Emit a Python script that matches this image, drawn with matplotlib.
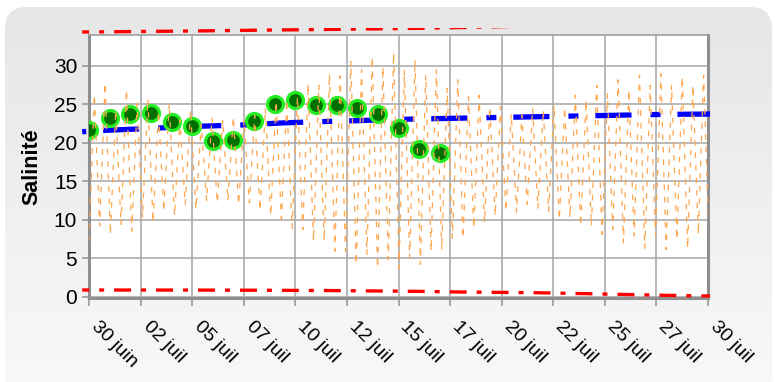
import numpy as np
import pandas as pd
import matplotlib
matplotlib.use('Agg')
import matplotlib.pyplot as plt
import matplotlib.dates as mdates
from matplotlib.colors import LinearSegmentedColormap
from matplotlib.patches import FancyBboxPatch
from matplotlib.transforms import Bbox, TransformedBbox, ScaledTranslation

plt.rcParams['font.family'] = ['Liberation Sans', 'DejaVu Sans']
plt.rcParams['lines.scale_dashes'] = False

t0 = pd.Timestamp('2008-06-30')

# salinité modélisée : creux et pics de marée alternés (~6h13 entre extrêmes)
sal_lows = [7.2, 9.2, 8.1, 9.4, 8.5, 10.3, 9.6, 11.1, 10.5, 12.0,
            11.4, 12.5, 12.2, 12.5, 12.0, 12.2, 11.2, 10.5, 10.1, 8.9,
            8.7, 7.2, 7.2, 5.9, 5.9, 4.2, 5.5, 3.7, 4.8, 3.7,
            5.0, 4.2, 5.9, 6.1, 7.6, 7.6, 8.9, 9.6, 10.5, 11.1,
            11.0, 12.0, 11.5, 11.1, 10.0, 10.3, 9.2, 9.2, 8.1, 8.7,
            7.0, 7.9, 6.3, 7.9, 6.1, 7.4, 6.3, 8.1, 7.4]
sal_highs = [26.3, 27.8, 24.3, 26.9, 25.1, 25.7, 24.1, 25.2, 23.0, 24.3,
             22.4, 23.2, 23.0, 23.4, 23.0, 23.6, 24.5, 25.4, 25.6, 26.0,
             27.7, 27.5, 29.0, 28.7, 30.6, 29.5, 31.2, 29.9, 31.7, 29.5,
             30.8, 28.8, 29.5, 27.1, 28.2, 26.0, 26.2, 24.7, 24.7, 23.8,
             23.6, 24.5, 24.3, 24.9, 24.6, 26.2, 25.6, 27.5, 26.4, 28.2,
             26.9, 28.8, 27.5, 29.0, 27.5, 28.6, 27.5, 28.8]

# mesures journalières
mes_vals = [21.7, 23.2, 23.7, 23.9, 22.7, 22.2, 20.2, 20.4, 22.8, 25.0,
            25.6, 24.9, 24.9, 24.6, 23.7, 22.0, 19.2, 18.7]

# salinité moyenne (jours depuis le 30 juin)
moy_days = [-0.33, 0.5, 2.3, 4.6, 7.6, 9.4, 11.0, 13.1, 15.7, 19.7, 23.7, 27.7, 30.1]
moy_vals = [21.45, 21.6, 21.8, 22.1, 22.35, 22.6, 22.75, 22.9, 23.1, 23.3, 23.5, 23.7, 23.75]

# limites (tiretés rouges)
lim_days = [-0.33, 5, 8, 11.5, 12, 15, 16, 17, 18, 19.4, 20, 21.6, 23.7, 24, 25, 26.5, 27.9, 29, 30.1]
lim_bas = [0.87, 0.86, 0.84, 0.8, 0.79, 0.72, 0.69, 0.65, 0.61, 0.57, 0.56, 0.52, 0.41, 0.40, 0.34, 0.26, 0.18, 0.13, 0.09]
lim_haut = [34.42, 34.55, 34.65, 34.75, 34.77, 34.86, 34.9, 34.95, 35.0, 35.08, 35.12, 35.22, 35.35, 35.37, 35.43, 35.52, 35.6, 35.66, 35.72]

tick_labels = ['30 juin', '02 juil', '05 juil', '07 juil', '10 juil', '12 juil', '15 juil',
               '17 juil', '20 juil', '22 juil', '25 juil', '27 juil', '30 juil']

sal = []
for i, lo in enumerate(sal_lows):
    sal.append(lo)
    if i < len(sal_highs):
        sal.append(sal_highs[i])
sal_times = pd.date_range(t0, periods=len(sal), freq='373min')
mes_times = pd.date_range(t0, periods=len(mes_vals), freq='D')
moy_times = t0 + pd.to_timedelta(moy_days, unit='D')
lim_times = t0 + pd.to_timedelta(lim_days, unit='D')
tick_times = pd.date_range(t0, periods=len(tick_labels), freq='60h')

fig = plt.figure(figsize=(7.75, 3.82), dpi=100, facecolor='white')

# fond gris arrondi en dégradé
bg = fig.add_axes([0, 0, 1, 1], zorder=-10)
bg.set_xlim(0, 775); bg.set_ylim(382, 0); bg.axis('off')
cmap = LinearSegmentedColormap.from_list('fond', ['#e6e6e6', '#f8f8f8'])
im = bg.imshow(np.linspace(0, 1, 200).reshape(-1, 1), extent=(0, 775, 382, 0),
               aspect='auto', cmap=cmap)
panel = FancyBboxPatch((5, 7), 767, 420, boxstyle='round,pad=0,rounding_size=22',
                       fc='none', ec='none')
bg.add_patch(panel)
im.set_clip_path(panel)

ax = fig.add_axes([89/775, 1-298/382, (708-89)/775, (298-35)/382])
ax.set_facecolor('white')

dashdot = (7.2, (12.2, 7.2, 3.6, 7.2))
l_moy, = ax.plot(moy_times, moy_vals, color='#0000ff', lw=3.8,
                 linestyle=(44, (26, 13.7, 7.2, 12.2)), zorder=3)
ax.plot(mes_times, mes_vals, 'o', ms=11.5, mfc='#006f00', mec='#22ee22', mew=2.3, zorder=4)
ax.plot(sal_times, sal, color='#ffa64d', lw=0.9, linestyle=(0, (4, 5)), zorder=5)
l_bas, = ax.plot(lim_times, lim_bas, color='#ff0000', lw=2.4, linestyle=dashdot, zorder=6)
l_haut, = ax.plot(lim_times, lim_haut, color='#ff0000', lw=2.4, linestyle=dashdot, zorder=6)

x0 = mdates.date2num(t0 - pd.Timedelta(days=1))
x1 = mdates.date2num(t0 + pd.Timedelta(days=31))
clip = TransformedBbox(Bbox([[x0, -2], [x1, 34.98]]), ax.transData)
for ln in (l_moy, l_bas, l_haut):
    ln.set_clip_box(clip)

ax.set_xlim(t0, t0 + pd.Timedelta(days=30))
ax.set_ylim(-0.17, 34.03)
ax.set_yticks(range(0, 31, 5))
ax.tick_params(axis='y', labelsize=15, color='#999999', length=5, width=1.2)
ax.tick_params(axis='x', color='#999999', length=6, width=1.2, pad=6)
ax.set_xticks(tick_times)
ax.set_xticklabels(tick_labels, rotation=-45, ha='left', va='top',
                   rotation_mode='anchor', fontsize=14)
ax.grid(True, color='#a6a6a6', lw=1.1)
ax.set_axisbelow(True)
for s in ('left', 'bottom', 'right'):
    ax.spines[s].set_color('#8f8f8f')
    ax.spines[s].set_linewidth(2.2)
ax.spines['top'].set_color('#a0a0a0')
ax.spines['top'].set_linewidth(1.2)

ax.set_ylabel('Salinité', fontsize=15.5, fontweight='bold')
ax.yaxis.set_label_coords(-0.076, 0.5)

# décalage des étiquettes de dates (à faire après tick_params)
shift = ScaledTranslation(0.11, -0.03, fig.dpi_scale_trans)
for tick in ax.xaxis.get_major_ticks():
    tick.label1.set_transform(tick.label1.get_transform() + shift)

fig.savefig('out.png', dpi=100, facecolor=fig.get_facecolor())
